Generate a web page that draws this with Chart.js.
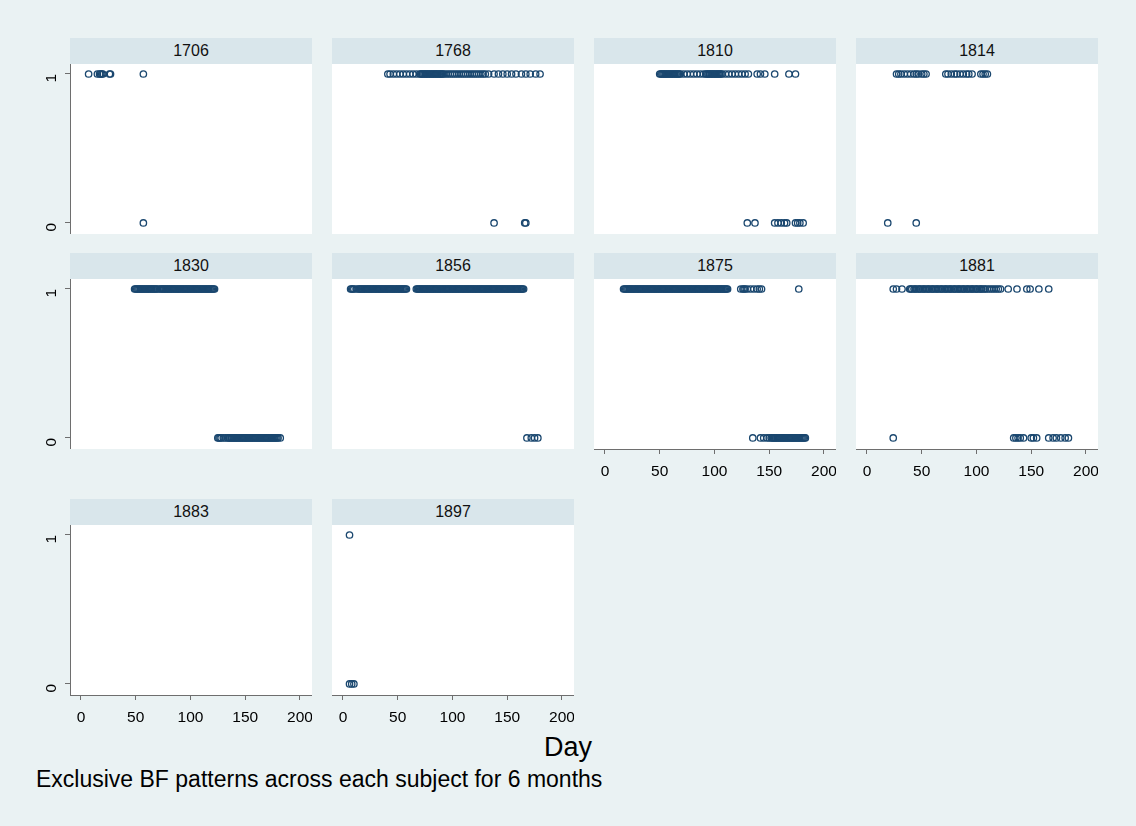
<!DOCTYPE html>
<html>
<head>
<meta charset="utf-8">
<script src="https://cdn.jsdelivr.net/npm/chart.js@4.4.1/dist/chart.umd.min.js"></script>
<style>
  html, body { margin: 0; padding: 0; }
  body { width: 1136px; height: 826px; background: #eaf2f3; position: relative; overflow: hidden;
         font-family: "Liberation Sans", Arial, sans-serif; }
  .strip { position: absolute; background: #d9e6eb; color: #111; font-size: 16px;
           display: flex; align-items: center; justify-content: center; }
  .plotbg { position: absolute; background: #ffffff; }
  .holder { position: absolute; }
  #xtitle { position: absolute; left: 508px; top: 732px; width: 120px; text-align: center;
            font-size: 27px; color: #000; }
  #note { position: absolute; left: 36px; top: 766px; font-size: 23px; color: #000; white-space: nowrap; }
</style>
</head>
<body>
<div id="xtitle">Day</div>
<div id="note">Exclusive BF patterns across each subject for 6 months</div>
<script>
// Subject ids, one panel each
const subjects = ["1706", "1768", "1810", "1814", "1830", "1856", "1875", "1881", "1883", "1897"];

// Days on which the pattern was exclusive (1) / not exclusive (0), per subject
const days1706_one = [7, 15, 17, 18, 19, 20, 26, 27, 57];
const days1706_zero = [57];

const days1768_one = [41, 43, 46, 49, 52, 55, 58, 61, 64, 67, 70, 71, 72, 73, 74, 75, 76, 77, 78, 79, 80, 81, 82, 83, 84, 85, 86, 87, 88, 89, 90, 91, 92, 94, 96, 98, 100, 102, 104, 106, 108, 110, 112, 114, 116, 118, 120, 122, 124, 126, 128, 130, 133, 138, 142, 146, 150, 154, 158, 163, 167, 171, 176, 180];
const days1768_zero = [138, 166, 167];

const days1810_one = [50, 51, 52, 53, 54, 55, 56, 57, 58, 59, 60, 61, 62, 63, 64, 65, 66, 67, 68, 69, 72, 75, 78, 81, 84, 87, 90, 92, 93, 94, 95, 96, 97, 98, 99, 100, 101, 102, 103, 104, 105, 106, 107, 110, 113, 116, 119, 122, 125, 128, 131, 139, 142, 146, 155, 168, 174];
const days1810_zero = [130, 137, 155, 158, 161, 164, 166, 174, 176, 178, 181];

const days1814_one = [27, 29, 31, 34, 37, 40, 43, 45, 47, 50, 52, 54, 72, 74, 77, 80, 82, 85, 88, 91, 93, 96, 104, 106, 108, 110];
const days1814_zero = [19, 45];

const days1830_one = [49, 50, 51, 52, 53, 54, 55, 56, 57, 58, 59, 60, 61, 62, 63, 64, 65, 66, 67, 68, 69, 70, 72, 73, 74, 75, 76, 77, 78, 79, 80, 81, 82, 83, 84, 85, 86, 87, 88, 89, 90, 91, 92, 93, 94, 95, 96, 97, 98, 99, 100, 101, 102, 103, 104, 105, 106, 107, 108, 109, 110, 111, 112, 113, 114, 115, 116, 117, 118, 119, 120, 121, 122];
const days1830_zero = [125, 126, 127, 128, 130, 132, 134, 135, 136, 137, 138, 139, 140, 141, 142, 143, 144, 145, 146, 147, 148, 149, 150, 151, 152, 153, 154, 155, 156, 157, 158, 159, 160, 161, 162, 163, 164, 165, 166, 167, 168, 169, 170, 171, 172, 173, 174, 175, 176, 177, 178, 179, 180, 182];

const days1856_one = [7, 8, 9, 10, 12, 14, 15, 16, 17, 18, 19, 20, 21, 22, 23, 24, 25, 26, 27, 28, 29, 30, 31, 32, 33, 34, 35, 36, 37, 38, 39, 40, 41, 42, 43, 44, 45, 46, 47, 48, 49, 50, 51, 52, 53, 54, 55, 56, 57, 58, 67, 68, 69, 70, 71, 72, 73, 74, 75, 76, 77, 78, 79, 80, 81, 82, 83, 84, 85, 86, 87, 88, 89, 90, 91, 92, 93, 94, 95, 96, 97, 98, 99, 100, 101, 102, 103, 104, 105, 106, 107, 108, 109, 110, 111, 112, 113, 114, 115, 116, 117, 118, 119, 120, 121, 122, 123, 124, 125, 126, 127, 128, 129, 130, 131, 132, 133, 134, 135, 136, 137, 138, 139, 140, 141, 142, 143, 144, 145, 146, 147, 148, 149, 150, 151, 152, 153, 154, 155, 156, 157, 158, 159, 160, 161, 162, 163, 164, 165];
const days1856_zero = [168, 172, 175, 178];

const days1875_one = [17, 18, 19, 20, 21, 22, 23, 24, 25, 26, 27, 28, 29, 30, 31, 32, 33, 34, 35, 36, 37, 38, 39, 40, 41, 42, 43, 44, 45, 46, 47, 48, 49, 50, 51, 52, 53, 54, 55, 56, 57, 58, 59, 60, 61, 62, 63, 64, 65, 66, 67, 68, 69, 70, 71, 72, 73, 74, 75, 76, 77, 78, 79, 80, 81, 82, 83, 84, 85, 86, 87, 88, 89, 90, 91, 92, 93, 94, 95, 96, 97, 98, 99, 100, 101, 102, 103, 104, 105, 106, 107, 108, 109, 110, 111, 112, 124, 126, 127, 128, 130, 133, 136, 139, 141, 143, 177];
const days1875_zero = [135, 142, 145, 148, 150, 152, 153, 154, 155, 156, 157, 158, 159, 160, 161, 162, 163, 164, 165, 166, 167, 168, 169, 170, 171, 172, 173, 174, 175, 176, 177, 178, 179, 180, 181, 182, 183];

const days1881_one = [24, 27, 32, 39, 40, 41, 43, 44, 45, 47, 48, 49, 51, 52, 53, 55, 56, 57, 59, 60, 61, 63, 64, 65, 67, 68, 69, 71, 72, 73, 75, 76, 77, 79, 80, 81, 83, 84, 85, 87, 88, 89, 91, 92, 93, 95, 96, 97, 99, 100, 101, 103, 104, 105, 107, 108, 110, 112, 114, 116, 118, 120, 122, 129, 137, 146, 149, 157, 166];
const days1881_zero = [24, 134, 136, 138, 140, 143, 150, 152, 155, 166, 170, 173, 177, 181, 184];

const days1883_one = [];
const days1883_zero = [];

const days1897_one = [6];
const days1897_zero = [6, 8, 10];

const xTickValues = [0, 50, 100, 150, 200];
const yTickValues = [0, 1];

const seriesBySubject = {
  "1706": [days1706_one, days1706_zero],
  "1768": [days1768_one, days1768_zero],
  "1810": [days1810_one, days1810_zero],
  "1814": [days1814_one, days1814_zero],
  "1830": [days1830_one, days1830_zero],
  "1856": [days1856_one, days1856_zero],
  "1875": [days1875_one, days1875_zero],
  "1881": [days1881_one, days1881_zero],
  "1883": [days1883_one, days1883_zero],
  "1897": [days1897_one, days1897_zero]
};

// Grid geometry: 4 columns, 3 rows
const colLeft = [70, 332, 594, 856];
const rowTop = [64, 279, 525];
const plotW = 242, plotH = 170, stripH = 26;
const yAxisW = 34, xAxisH = 36;
const navy = "#1a476f";
const axisGrey = "#6e6e6e";

function toPoints(days, y) { return days.map(d => ({ x: d, y: y })); }

subjects.forEach((id, i) => {
  const col = i % 4, row = Math.floor(i / 4);
  const left = colLeft[col], top = rowTop[row];
  const showY = col === 0;
  // bottom axis shown on the lowest panel of each column
  const showX = (row === 2) || (row === 1 && col >= 2);

  const strip = document.createElement("div");
  strip.className = "strip";
  Object.assign(strip.style, { left: left + "px", top: (top - stripH) + "px", width: plotW + "px", height: stripH + "px" });
  strip.textContent = id;
  document.body.appendChild(strip);

  const bg = document.createElement("div");
  bg.className = "plotbg";
  Object.assign(bg.style, { left: left + "px", top: top + "px", width: plotW + "px", height: plotH + "px" });
  document.body.appendChild(bg);

  const cw = plotW + (showY ? yAxisW : 0);
  const ch = plotH + (showX ? xAxisH : 0);
  const holder = document.createElement("div");
  holder.className = "holder";
  Object.assign(holder.style, { left: (left - (showY ? yAxisW : 0)) + "px", top: top + "px", width: cw + "px", height: ch + "px" });
  const canvas = document.createElement("canvas");
  canvas.width = cw; canvas.height = ch;
  holder.appendChild(canvas);
  document.body.appendChild(holder);

  const [one, zero] = seriesBySubject[id];
  const marker = {
    showLine: false, pointStyle: "circle", pointRadius: 3.2, pointHoverRadius: 3.2,
    pointBorderWidth: 1.3, pointBorderColor: navy, pointBackgroundColor: "rgba(0,0,0,0)"
  };

  new Chart(canvas, {
    type: "scatter",
    data: {
      datasets: [
        Object.assign({ label: "1", data: toPoints(one, 1) }, marker),
        Object.assign({ label: "0", data: toPoints(zero, 0) }, marker)
      ]
    },
    options: {
      responsive: false, animation: false, devicePixelRatio: 1,
      layout: { padding: 0, autoPadding: false },
      clip: false,
      plugins: { legend: { display: false }, tooltip: { enabled: false }, title: { display: false } },
      scales: {
        x: {
          type: "linear", min: -10, max: 211, display: showX,
          afterBuildTicks: s => { s.ticks = xTickValues.map(v => ({ value: v })); },
          afterFit: s => { s.height = showX ? xAxisH : 0; s.paddingLeft = 0; s.paddingRight = 0; },
          border: { display: true, color: axisGrey, width: 1 },
          grid: { display: true, drawOnChartArea: false, drawTicks: true, tickLength: 5, color: axisGrey },
          ticks: { color: "#000", font: { family: "Liberation Sans", size: 15.5 }, padding: 8, maxRotation: 0, minRotation: 0 }
        },
        y: {
          type: "linear", min: -0.074, max: 1.067, display: showY,
          afterBuildTicks: s => { s.ticks = yTickValues.map(v => ({ value: v })); },
          afterFit: s => { s.width = showY ? yAxisW : 0; s.paddingTop = 0; s.paddingBottom = 0; },
          border: { display: true, color: axisGrey, width: 1 },
          grid: { display: true, drawOnChartArea: false, drawTicks: true, tickLength: 5, color: axisGrey },
          ticks: { color: "#000", font: { family: "Liberation Sans", size: 15.5 }, padding: 13, minRotation: 90, maxRotation: 90 }
        }
      }
    }
  });
});
</script>
</body>
</html>
